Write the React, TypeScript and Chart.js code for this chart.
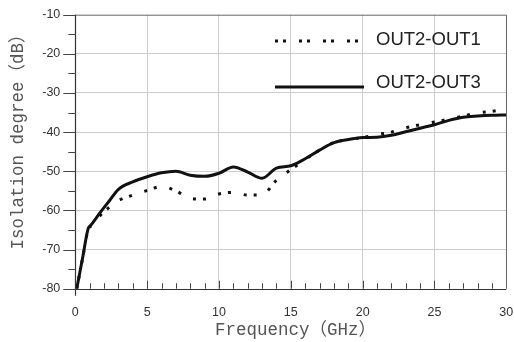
import React, { useEffect, useRef } from "react";
import { Chart, registerables } from "chart.js";

Chart.register(...registerables);

const freq = [0.1, 0.5, 0.9, 1.1, 1.7, 2.4, 3, 4, 5, 6, 7, 8, 9, 10, 11, 12, 13, 14, 15, 16, 17, 18, 19, 20, 21, 22, 23, 24, 25, 26, 27, 28, 29, 30];
const out1 = [-80, -72.4, -64.8, -64.0, -61.4, -59.1, -57.5, -56.1, -54.9, -53.9, -55.0, -56.9, -57.1, -55.8, -55.4, -56.1, -56.0, -52.3, -49.6, -47.0, -44.6, -42.7, -41.9, -41.4, -40.6, -40.0, -38.9, -38.1, -37.4, -36.7, -35.9, -35.1, -34.7, -34.1];
const out3 = [-80, -72.3, -64.6, -63.7, -60.7, -57.4, -54.6, -52.7, -51.4, -50.4, -50.0, -51.0, -51.3, -50.5, -48.9, -50.2, -51.8, -49.2, -48.6, -46.8, -44.6, -42.7, -41.9, -41.4, -41.3, -40.8, -39.9, -39.0, -38.1, -37.0, -36.2, -35.9, -35.7, -35.6];
const seriesNames = ["OUT2-OUT1", "OUT2-OUT3"];
const xTitle = "Frequency（GHz）";
const yTitle = "Isolation degree（dB）";

const TITLE_FONT = "17.5px 'Liberation Mono', 'Noto Sans CJK SC', monospace";
const LEGEND_FONT = "18.5px 'Liberation Sans', Arial, sans-serif";

const decor = {
  id: "decor",
  afterDraw(chart: any) {
    const { ctx, chartArea } = chart;
    const { left, right, top, bottom } = chartArea;
    const xs = chart.scales.x;
    const ys = chart.scales.y;
    ctx.save();
    ctx.strokeStyle = "#666";
    ctx.lineWidth = 1;
    ctx.beginPath();
    ctx.moveTo(left, top + 0.5);
    ctx.lineTo(Math.round(right) + 0.5, top + 0.5);
    ctx.lineTo(Math.round(right) + 0.5, bottom);
    ctx.stroke();
    ctx.strokeStyle = "#333";
    ctx.lineWidth = 1.2;
    ctx.beginPath();
    ctx.moveTo(Math.round(left) + 0.5, top);
    ctx.lineTo(Math.round(left) + 0.5, bottom + 7);
    ctx.moveTo(left, Math.round(bottom) + 0.5);
    ctx.lineTo(right, Math.round(bottom) + 0.5);
    ctx.stroke();
    ctx.strokeStyle = "#444";
    ctx.lineWidth = 1;
    ctx.beginPath();
    for (let v = 1; v < 30; v++) {
      const px = Math.round(xs.getPixelForValue(v)) + 0.5;
      const len = v % 5 === 0 ? 8 : 5.5;
      ctx.moveTo(px, bottom);
      ctx.lineTo(px, bottom - len);
    }
    for (let v = -80; v <= -10; v += 5) {
      const py = Math.round(ys.getPixelForValue(v)) + 0.5;
      const len = v % 10 === 0 ? 12 : 7;
      ctx.moveTo(left, py);
      ctx.lineTo(left - len, py);
    }
    ctx.stroke();
    ctx.strokeStyle = "#111";
    ctx.lineWidth = 3;
    ctx.setLineDash([3, 5, 3, 13]);
    ctx.beginPath();
    ctx.moveTo(275, 41);
    ctx.lineTo(362, 41);
    ctx.stroke();
    ctx.setLineDash([]);
    ctx.beginPath();
    ctx.moveTo(275, 87);
    ctx.lineTo(364, 87);
    ctx.stroke();
    ctx.fillStyle = "#222";
    ctx.font = LEGEND_FONT;
    ctx.textAlign = "left";
    ctx.textBaseline = "middle";
    ctx.fillText(seriesNames[0], 376, 39.5);
    ctx.fillText(seriesNames[1], 376, 83);
    ctx.fillStyle = "#555";
    ctx.font = TITLE_FONT;
    ctx.textAlign = "center";
    ctx.textBaseline = "middle";
    ctx.fillText(xTitle, 295.5, 330);
    ctx.translate(18, 137.5);
    ctx.rotate(-Math.PI / 2);
    ctx.fillText(yTitle, 0, 0);
    ctx.restore();
  },
};

export default function App() {
  const ref = useRef<HTMLCanvasElement>(null);
  useEffect(() => {
    const canvas = ref.current!;
    const chart = new Chart(canvas, {
      type: "scatter",
      data: {
        datasets: [
          {
            label: seriesNames[0],
            data: freq.map((f, i) => ({ x: f, y: out1[i] })),
            showLine: true,
            borderColor: "#111",
            borderWidth: 3,
            borderDash: [3, 7, 3, 13],
            borderCapStyle: "butt",
            pointRadius: 0,
            cubicInterpolationMode: "monotone",
          },
          {
            label: seriesNames[1],
            data: freq.map((f, i) => ({ x: f, y: out3[i] })),
            showLine: true,
            borderColor: "#111",
            borderWidth: 3,
            pointRadius: 0,
            cubicInterpolationMode: "monotone",
          },
        ],
      },
      options: {
        responsive: false,
        animation: false,
        layout: { padding: { top: 14.7, right: 7.7, left: 0, bottom: 0 } },
        plugins: { legend: { display: false }, tooltip: { enabled: false } },
        scales: {
          x: {
            type: "linear",
            min: 0,
            max: 30,
            border: { display: false },
            grid: {
              drawTicks: false,
              color: (c: any) => (c.tick && (c.tick.value === 0 || c.tick.value === 30) ? "rgba(0,0,0,0)" : "#cccccc"),
            },
            ticks: {
              stepSize: 5,
              padding: 16,
              color: "#333",
              font: { family: "'Liberation Sans', Arial, sans-serif", size: 12.5 },
              maxRotation: 0,
            },
            afterFit: (s: any) => {
              s.height = 53.3;
              s.paddingLeft = 0;
              s.paddingRight = 0;
            },
          },
          y: {
            min: -80,
            max: -10,
            border: { display: false },
            grid: {
              drawTicks: false,
              color: (c: any) => (c.tick && (c.tick.value === -80 || c.tick.value === -10) ? "rgba(0,0,0,0)" : "#cccccc"),
            },
            ticks: {
              stepSize: 10,
              padding: 15,
              color: "#333",
              font: { family: "'Liberation Sans', Arial, sans-serif", size: 12.5 },
            },
            afterFit: (s: any) => {
              s.width = 75.3;
              s.paddingTop = 0;
              s.paddingBottom = 0;
            },
          },
        },
      },
      plugins: [decor],
    });
    return () => chart.destroy();
  }, []);
  return (
    <div style={{ position: "absolute", left: 0, top: 0, width: 514, height: 342, background: "#fff" }}>
      <canvas ref={ref} width={514} height={342} style={{ display: "block" }} />
    </div>
  );
}
